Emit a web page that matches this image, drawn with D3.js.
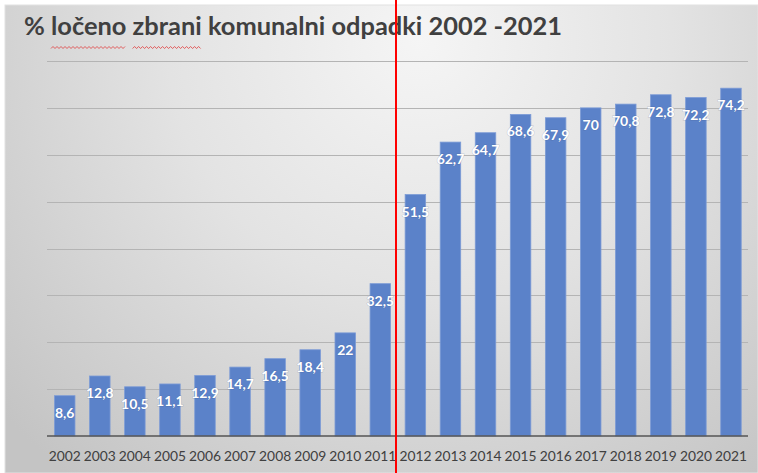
<!DOCTYPE html>
<html>
<head>
<meta charset="utf-8">
<script src="https://cdn.jsdelivr.net/npm/d3@7"></script>
<style>
  html, body { margin: 0; padding: 0; background: #ffffff; }
  svg { display: block; }
</style>
</head>
<body>
<svg id="chart" width="758" height="473"></svg>
<script>
const years = ["2002","2003","2004","2005","2006","2007","2008","2009","2010","2011","2012","2013","2014","2015","2016","2017","2018","2019","2020","2021"];
const values = [8.6,12.8,10.5,11.1,12.9,14.7,16.5,18.4,22,32.5,51.5,62.7,64.7,68.6,67.9,70,70.8,72.8,72.2,74.2];
const yTicks = [0,10,20,30,40,50,60,70,80];
const titleParts = ["% ", "ločeno", " ", "zbrani", " komunalni odpadki 2002 -2021"];
const flaggedParts = [1, 3];

const W = 758, H = 473;
const svg = d3.select("#chart");
const defs = svg.append("defs");

const grad = defs.append("radialGradient")
  .attr("id", "bg").attr("gradientUnits", "userSpaceOnUse")
  .attr("cx", 420).attr("cy", 40).attr("r", 560);
grad.append("stop").attr("offset", "0%").attr("stop-color", "#f5f5f5");
grad.append("stop").attr("offset", "45%").attr("stop-color", "#e3e3e3");
grad.append("stop").attr("offset", "100%").attr("stop-color", "#c4c4c4");

svg.append("rect").attr("x", 5).attr("y", 5).attr("width", W - 5).attr("height", H - 5)
  .attr("fill", "url(#bg)").attr("stroke", "#e2e2e2").attr("stroke-width", 1);

const x = d3.scaleBand().domain(years).range([47.2, 748.5]).paddingInner(0.415).paddingOuter(0.2075);
const y = d3.scaleLinear().domain([0, 80]).range([436, 61]);

// gridlines
svg.append("g").selectAll("line").data(yTicks.filter(t => t > 0)).join("line")
  .attr("x1", 47).attr("x2", 748)
  .attr("y1", d => Math.round(y(d)) + 0.5).attr("y2", d => Math.round(y(d)) + 0.5)
  .attr("stroke", "#b4b4b4").attr("stroke-width", 1);

// bars
svg.append("g").selectAll("rect").data(values).join("rect")
  .attr("x", (d, i) => x(years[i]))
  .attr("width", x.bandwidth())
  .attr("y", d => y(d))
  .attr("height", d => y(0) - y(d))
  .attr("fill", "#5b82c9")
  .attr("stroke", "#7c9bd6").attr("stroke-width", 0.8);

// axis line
svg.append("line").attr("x1", 47).attr("x2", 748).attr("y1", y(0)).attr("y2", y(0))
  .attr("stroke", "#555555").attr("stroke-width", 1.6);

// x axis labels
const xAxis = d3.axisBottom(x).tickSize(0).tickPadding(0);
const gx = svg.append("g").attr("transform", `translate(0,${y(0)})`).call(xAxis);
gx.select(".domain").remove();
gx.selectAll("text")
  .attr("dy", null).attr("y", 24.5)
  .attr("font-family", "Lato, 'Open Sans', sans-serif")
  .attr("font-size", "13.8px").attr("fill", "#404040");

// data labels
svg.append("g").selectAll("text").data(values).join("text")
  .attr("x", (d, i) => x(years[i]) + x.bandwidth() / 2)
  .attr("y", d => y(d) + 22)
  .attr("text-anchor", "middle")
  .attr("font-family", "Lato, 'Open Sans', sans-serif")
  .attr("font-weight", "bold")
  .attr("font-size", "14px")
  .attr("fill", "#ffffff")
  .attr("paint-order", "stroke")
  .attr("stroke", "rgba(60,80,120,0.25)").attr("stroke-width", 1)
  .text(d => String(d).replace(".", ","));

// title
const title = svg.append("text")
  .attr("x", 24).attr("y", 35)
  .attr("font-family", "Lato, 'Open Sans', sans-serif")
  .attr("font-weight", "bold")
  .attr("font-size", "22px")
  .attr("fill", "#404040");
const spans = title.selectAll("tspan").data(titleParts).join("tspan").text(d => d);
const targetW = 538;
const w0 = title.node().getComputedTextLength();
title.attr("font-size", (22 * targetW / w0).toFixed(2) + "px");

// spell-check squiggles
spans.each(function(d, i) {
  if (!flaggedParts.includes(i)) return;
  const bb = this.getBBox();
  const pts = [];
  const step = 2;
  for (let k = 0; k * step <= bb.width; k++) {
    pts.push([bb.x + k * step, 47.5 + (k % 2 === 0 ? 1 : -1)]);
  }
  svg.append("path").attr("d", d3.line()(pts))
    .attr("fill", "none").attr("stroke", "#e03a3a").attr("stroke-width", 0.8);
});

// red vertical marker line
svg.append("line").attr("x1", 396).attr("x2", 396).attr("y1", 0).attr("y2", H)
  .attr("stroke", "#ff0000").attr("stroke-width", 2);
</script>
</body>
</html>
